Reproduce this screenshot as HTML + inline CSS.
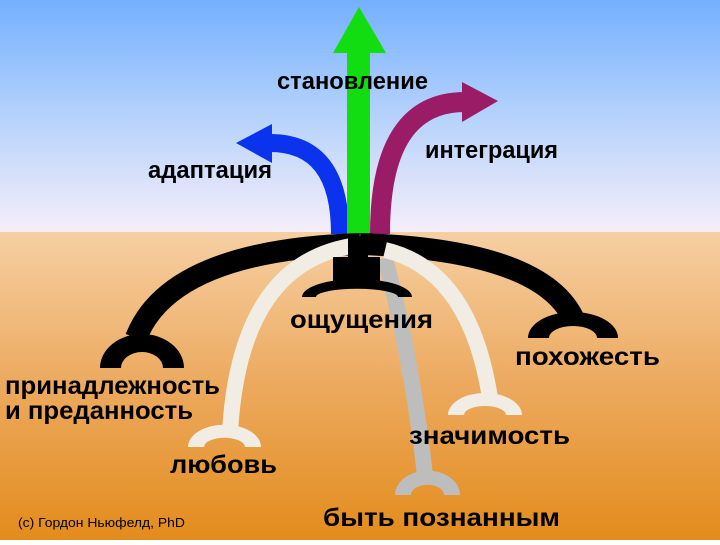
<!DOCTYPE html>
<html><head><meta charset="utf-8"><style>
html,body{margin:0;padding:0}
body{width:720px;height:540px;overflow:hidden}
svg text{font-family:"Liberation Sans",sans-serif;font-weight:bold;fill:#000}
</style></head><body>
<svg width="720" height="540" viewBox="0 0 720 540" xmlns="http://www.w3.org/2000/svg">
<defs>
<linearGradient id="sky" x1="0" y1="0" x2="0" y2="1">
<stop offset="0" stop-color="#74b0ff"/><stop offset="0.5" stop-color="#b5d2fb"/><stop offset="1" stop-color="#f6eefa"/>
</linearGradient>
<linearGradient id="gr" x1="0" y1="0" x2="0" y2="1">
<stop offset="0" stop-color="#f6cfa2"/><stop offset="0.5" stop-color="#eca95e"/><stop offset="1" stop-color="#e38c1c"/>
</linearGradient>
</defs>
<rect x="0" y="0" width="720" height="232" fill="url(#sky)"/>
<rect x="0" y="232" width="720" height="308" fill="url(#gr)"/>

<path d="M340,234 Q340,143 270,143" fill="none" stroke="#0b33ee" stroke-width="18"/>
<polygon points="236,143 272,124 272,163" fill="#0b33ee"/>
<path d="M380,234 Q380,102 465,102" fill="none" stroke="#9b1c66" stroke-width="20"/>
<polygon points="498,101 462,82 462,122" fill="#9b1c66"/>
<rect x="347" y="50" width="23" height="185" fill="#11dd11"/>
<polygon points="359,7 333,53 386,53" fill="#11dd11"/>

<path d="M360,244 Q170,250 136,338" fill="none" stroke="#000" stroke-width="22"/>
<path d="M360,244 Q545,250 575,322" fill="none" stroke="#000" stroke-width="22"/>
<path d="M100,368 A42,34 0 0 1 184,368 L163,368 A21,16 0 0 0 121,368 Z" fill="#000"/>
<path d="M528,338 A45,26 0 0 1 618,338 L597,338 A24,12 0 0 0 549,338 Z" fill="#000"/>

<path d="M385,258 Q412,360 425,475" fill="none" stroke="#bdbdbd" stroke-width="16"/>
<path d="M395,495 A32,24 0 0 1 460,495 L444,495 A16,10 0 0 0 411,495 Z" fill="#bdbdbd"/>
<path d="M358,245 Q240,260 230,432" fill="none" stroke="#f1ede4" stroke-width="16"/>
<path d="M188,447 A36,22 0 0 1 261,447 L245,447 A20,9 0 0 0 204,447 Z" fill="#f1ede4"/>
<path d="M385,250 Q470,270 490,398" fill="none" stroke="#f1ede4" stroke-width="16"/>
<path d="M448,415 A37,22 0 0 1 522,415 L506,415 A21,9 0 0 0 464,415 Z" fill="#f1ede4"/>

<path d="M358,236 L358,258" stroke="#000" stroke-width="20"/>
<rect x="333" y="257" width="47" height="30" fill="#000"/>
<path d="M302,297 A55,18 0 0 1 412,297 L398,297 A40,8 0 0 0 316,297 Z" fill="#000"/>

<text x="277" y="89" font-size="24" textLength="151" lengthAdjust="spacingAndGlyphs">становление</text>
<text x="148" y="178" font-size="24" textLength="124" lengthAdjust="spacingAndGlyphs">адаптация</text>
<text x="425" y="158" font-size="24" textLength="133" lengthAdjust="spacingAndGlyphs">интеграция</text>
<text x="290" y="328" font-size="25" textLength="143" lengthAdjust="spacingAndGlyphs">ощущения</text>
<text x="515" y="365" font-size="25" textLength="145" lengthAdjust="spacingAndGlyphs">похожесть</text>
<text x="5" y="394" font-size="25" textLength="215" lengthAdjust="spacingAndGlyphs">принадлежность</text>
<text x="5" y="419" font-size="25" textLength="188" lengthAdjust="spacingAndGlyphs">и преданность</text>
<text x="170" y="473" font-size="25" textLength="107" lengthAdjust="spacingAndGlyphs">любовь</text>
<text x="409" y="444" font-size="25" textLength="161" lengthAdjust="spacingAndGlyphs">значимость</text>
<text x="323" y="526" font-size="25" textLength="237" lengthAdjust="spacingAndGlyphs">быть познанным</text>
<text x="18" y="527" font-size="13" style="font-weight:normal" textLength="167" lengthAdjust="spacingAndGlyphs">(c) Гордон Ньюфелд, PhD</text>
</svg>
</body></html>
